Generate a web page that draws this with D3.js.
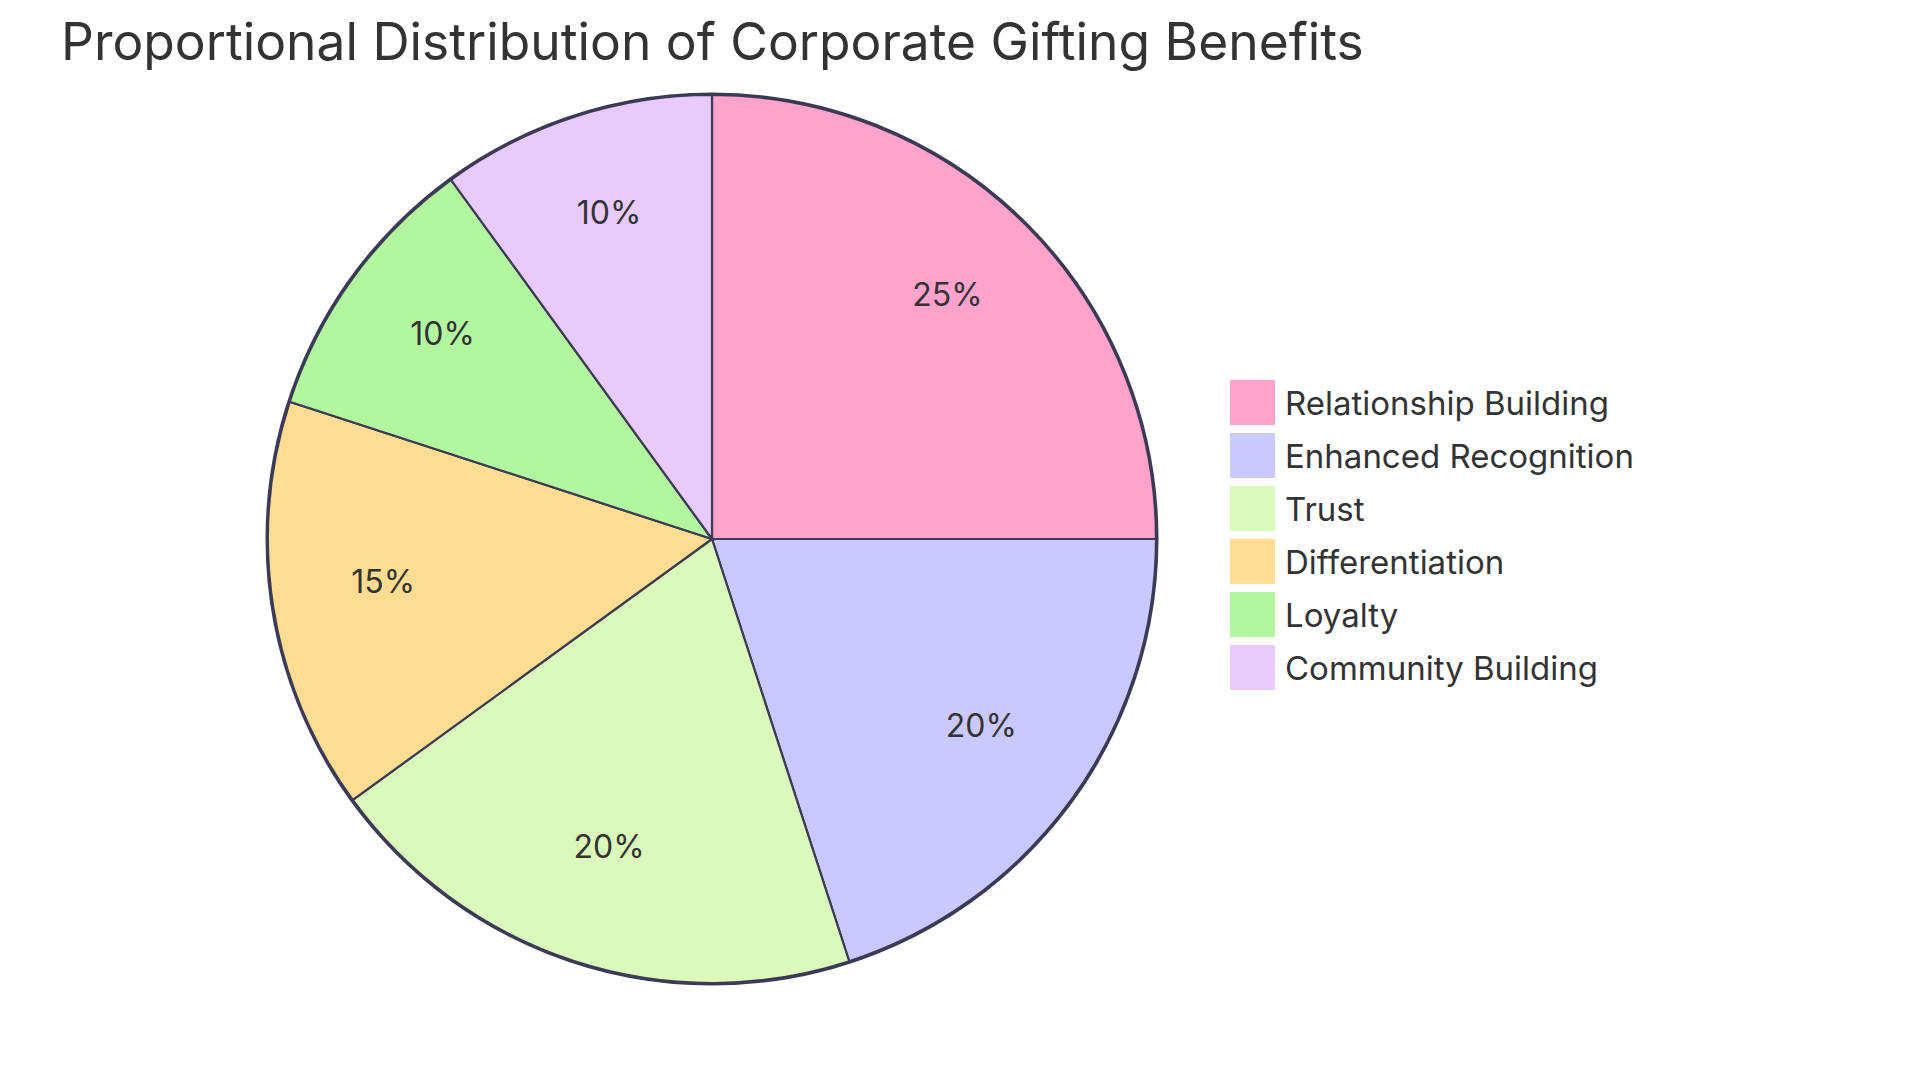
<!DOCTYPE html>
<html>
<head>
<meta charset="utf-8">
<script src="https://cdn.jsdelivr.net/npm/d3@7"></script>
<style>
  html, body { margin: 0; padding: 0; background: #fff; }
  svg { display: block; }
  text { font-family: Inter, "Open Sans", sans-serif; }
</style>
</head>
<body>
<svg id="chart" width="1920" height="1080"></svg>
<script>
const title = "Proportional Distribution of Corporate Gifting Benefits";
const categories = ["Relationship Building", "Enhanced Recognition", "Trust", "Differentiation", "Loyalty", "Community Building"];
const values = [25, 20, 20, 15, 10, 10];
const colors = ["#FFA3CD", "#C9C9FF", "#DAF9BA", "#FEDD92", "#B2F79F", "#E8CAFD"];

const svg = d3.select("#chart");
const cx = 712, cy = 539, R = 444;
const stroke = "#3b3b55";

svg.append("text")
  .attr("x", 61).attr("y", 60)
  .attr("font-size", 51.5)
  .attr("fill", "#333")
  .text(title);

const data = categories.map((c, i) => ({ name: c, value: values[i], color: colors[i] }));
const total = d3.sum(values);
const pie = d3.pie().sort(null).value(d => d.value);
const arcs = pie(data);
const arc = d3.arc().innerRadius(0).outerRadius(R);
const labelArc = d3.arc().innerRadius(R * 0.75).outerRadius(R * 0.75);

const g = svg.append("g").attr("transform", `translate(${cx},${cy})`);

g.append("circle").attr("r", R + 1).attr("fill", "none")
  .attr("stroke", stroke).attr("stroke-width", 3);

g.selectAll("path.slice").data(arcs).enter().append("path")
  .attr("class", "slice")
  .attr("d", arc)
  .attr("fill", d => d.data.color)
  .attr("stroke", stroke)
  .attr("stroke-width", 2.2);

g.selectAll("text.pct").data(arcs).enter().append("text")
  .attr("class", "pct")
  .attr("transform", d => `translate(${labelArc.centroid(d)})`)
  .attr("text-anchor", "middle")
  .attr("y", 2)
  .attr("font-size", 32)
  .attr("fill", "#333")
  .text(d => Math.round(d.data.value / total * 100) + "%");

const lg = svg.append("g").attr("transform", "translate(1230,380)");
const spacing = 53;
const item = lg.selectAll("g.item").data(data).enter().append("g")
  .attr("class", "item")
  .attr("transform", (d, i) => `translate(0,${i * spacing})`);
item.append("rect").attr("width", 45).attr("height", 45)
  .attr("fill", d => d.color).attr("stroke", "none");
item.append("text").attr("x", 55).attr("y", 35)
  .attr("font-size", 33)
  .attr("fill", "#333")
  .text(d => d.name);
</script>
</body>
</html>
